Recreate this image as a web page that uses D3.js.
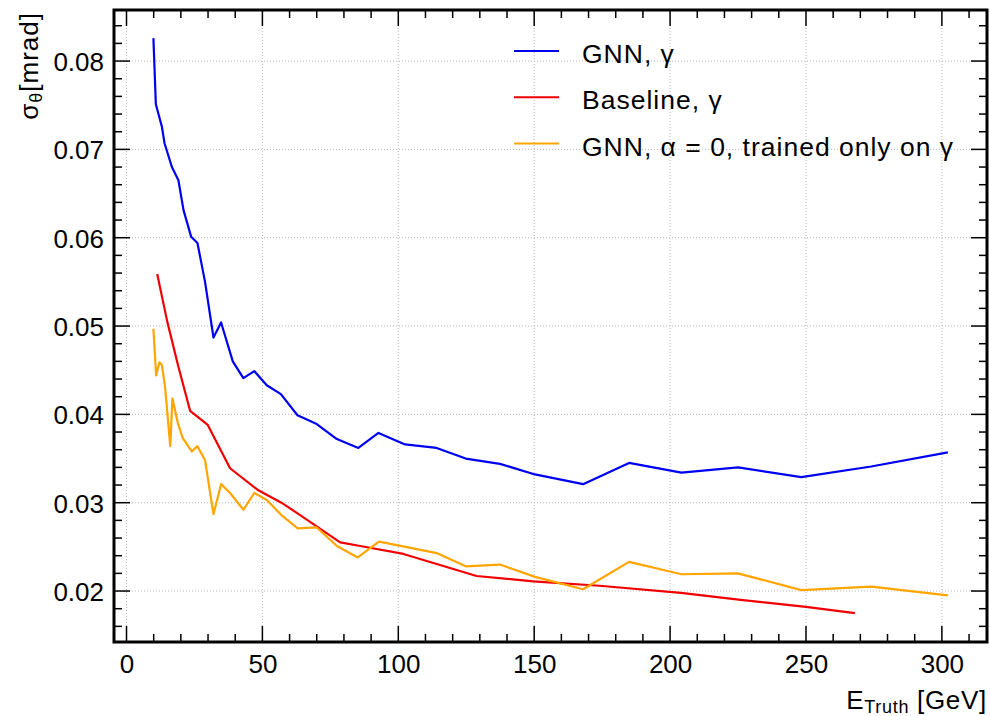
<!DOCTYPE html>
<html><head><meta charset="utf-8">
<script src="https://cdn.jsdelivr.net/npm/d3@7"></script>
<style>body{margin:0;background:#fff}svg{display:block}text{font-family:"Liberation Sans",Arial,sans-serif}</style>
</head><body><svg id="c" width="990" height="716"></svg>
<script>
const gnnE   = [9.9,10.8,13,14,16.7,19.1,21,23.8,26.1,28.9,32,34.8,39.1,43,47,51.6,56.8,62.9,70,77.4,85.3,92.7,102.5,114.1,124.8,137.4,150.3,168,184.9,204.2,225,248.3,274,302.2];
const gnnSig = [0.0826,0.0751,0.0726,0.0707,0.0680,0.0665,0.0631,0.0601,0.0594,0.0550,0.0487,0.0504,0.0460,0.0441,0.0449,0.0433,0.0423,0.0399,0.0389,0.0372,0.0362,0.0379,0.0366,0.0362,0.0350,0.0344,0.0332,0.0321,0.0345,0.0334,0.0340,0.0329,0.0341,0.0357];
const baseE   = [11.3,15,19,23.4,29.9,38.1,48.5,57,63.9,78.6,86,101.9,128.8,149.6,174,204,226,250,268];
const baseSig = [0.0559,0.0505,0.0455,0.0404,0.0388,0.0339,0.0314,0.0300,0.0286,0.0255,0.0251,0.0242,0.0217,0.0211,0.0206,0.0198,0.0190,0.0182,0.0175];
const a0E   = [9.9,10.9,12.1,13,14.2,16.1,16.9,18.9,20.7,24,26.1,28.9,32,34.8,38.1,43,47,51.6,57,63,70,77.4,85.1,92.9,102.7,114.1,124.8,137.4,150.3,168,184.9,204.2,225,248.3,274,302.2];
const a0Sig = [0.0497,0.0444,0.0459,0.0456,0.0431,0.0364,0.0418,0.0390,0.0373,0.0358,0.0364,0.0348,0.0287,0.0321,0.0311,0.0292,0.0311,0.0303,0.0286,0.0271,0.0272,0.0251,0.0238,0.0256,0.0250,0.0243,0.0228,0.0230,0.0216,0.0202,0.0233,0.0219,0.0220,0.0201,0.0205,0.0195];
const xTicks = [0,50,100,150,200,250,300];
const yTicks = [0.02,0.03,0.04,0.05,0.06,0.07,0.08];
const seriesNames = ["GNN, γ","Baseline, γ","GNN, α = 0, trained only on γ"];
const seriesColors = ["#0000f0","#f00000","#ffa500"];

const svg = d3.select("#c");
const L=114, R=987, T=10, B=642;
const x = d3.scaleLinear().domain([-4.6,316.6]).range([L,R]);
const y = d3.scaleLinear().domain([0.01423,0.08578]).range([B,T]);

// grid
const g = svg.append("g");
xTicks.forEach(t=>g.append("line").attr("x1",x(t)).attr("x2",x(t)).attr("y1",T).attr("y2",B)
  .attr("stroke","#b8b8b8").attr("stroke-width",1).attr("stroke-dasharray","1,2"));
yTicks.forEach(t=>g.append("line").attr("y1",y(t)).attr("y2",y(t)).attr("x1",L).attr("x2",R)
  .attr("stroke","#b8b8b8").attr("stroke-width",1).attr("stroke-dasharray","1,2"));

// lines
svg.append("clipPath").attr("id","cp").append("rect").attr("x",L).attr("y",T).attr("width",R-L).attr("height",B-T);
const line = d3.line().x(d=>x(d[0])).y(d=>y(d[1]));
const sets = [[gnnE,gnnSig],[baseE,baseSig],[a0E,a0Sig]];
sets.forEach((s,i)=>{
  svg.append("path").datum(s[0].map((e,j)=>[e,s[1][j]])).attr("d",line)
    .attr("fill","none").attr("stroke",seriesColors[i]).attr("stroke-width",2.2).attr("stroke-linejoin","round")
    .attr("clip-path","url(#cp)");
});

// axes with inward ticks
const xMinor = d3.range(0,320,10), yMinor = d3.range(0.016,0.0858,0.002);
const a = svg.append("g").attr("stroke","#000").attr("stroke-width",1.5);
xMinor.forEach(t=>{const big=t%50===0, len=big?16:8;
  a.append("line").attr("x1",x(t)).attr("x2",x(t)).attr("y1",B).attr("y2",B-len);
  a.append("line").attr("x1",x(t)).attr("x2",x(t)).attr("y1",T).attr("y2",T+len);});
yMinor.forEach(t=>{const big=Math.abs(Math.round(t*100)-t*100)<1e-6, len=big?16:8;
  a.append("line").attr("y1",y(t)).attr("y2",y(t)).attr("x1",L).attr("x2",L+len);
  a.append("line").attr("y1",y(t)).attr("y2",y(t)).attr("x1",R).attr("x2",R-len);});
svg.append("rect").attr("x",L).attr("y",T).attr("width",R-L).attr("height",B-T)
  .attr("fill","none").attr("stroke","#000").attr("stroke-width",3);

// tick labels
const xa = d3.axisBottom(x).tickValues(xTicks).tickSize(0).tickPadding(0).tickFormat(d3.format("d"));
const xg = svg.append("g").attr("transform",`translate(0,${B})`).call(xa);
xg.select(".domain").remove();
xg.selectAll("text").attr("font-size",26).attr("fill","#000").attr("dy",null).attr("y",31);
const ya = d3.axisLeft(y).tickValues(yTicks).tickSize(0).tickPadding(0).tickFormat(d3.format(".2f"));
const yg = svg.append("g").attr("transform",`translate(${L-10},0)`).call(ya);
yg.select(".domain").remove();
yg.selectAll("text").attr("font-size",26).attr("fill","#000").attr("dy","0.36em").attr("x",0);

// axis titles
const xt = svg.append("text").attr("x",R).attr("y",709).attr("text-anchor","end").attr("font-size",26).attr("letter-spacing",0.7);
xt.append("tspan").text("E");
xt.append("tspan").text("Truth").attr("font-size",18).attr("dy",4);
xt.append("tspan").text(" [GeV]").attr("dy",-4);
const yt = svg.append("text").attr("transform","translate(38,12) rotate(-90)").attr("text-anchor","end").attr("font-size",26).attr("letter-spacing",1);
yt.append("tspan").text("σ");
yt.append("tspan").text("θ").attr("font-size",18).attr("dy",4);
yt.append("tspan").text("[mrad]").attr("dy",-4);

// legend
const lg = svg.append("g");
seriesNames.forEach((n,i)=>{
  const yy = 51 + i*46.3;
  lg.append("line").attr("x1",514).attr("x2",559).attr("y1",yy).attr("y2",yy).attr("stroke",seriesColors[i]).attr("stroke-width",2);
  lg.append("text").attr("x",582).attr("y",yy+12).attr("font-size",26.5).attr("letter-spacing",1).text(n);
});
</script></body></html>
